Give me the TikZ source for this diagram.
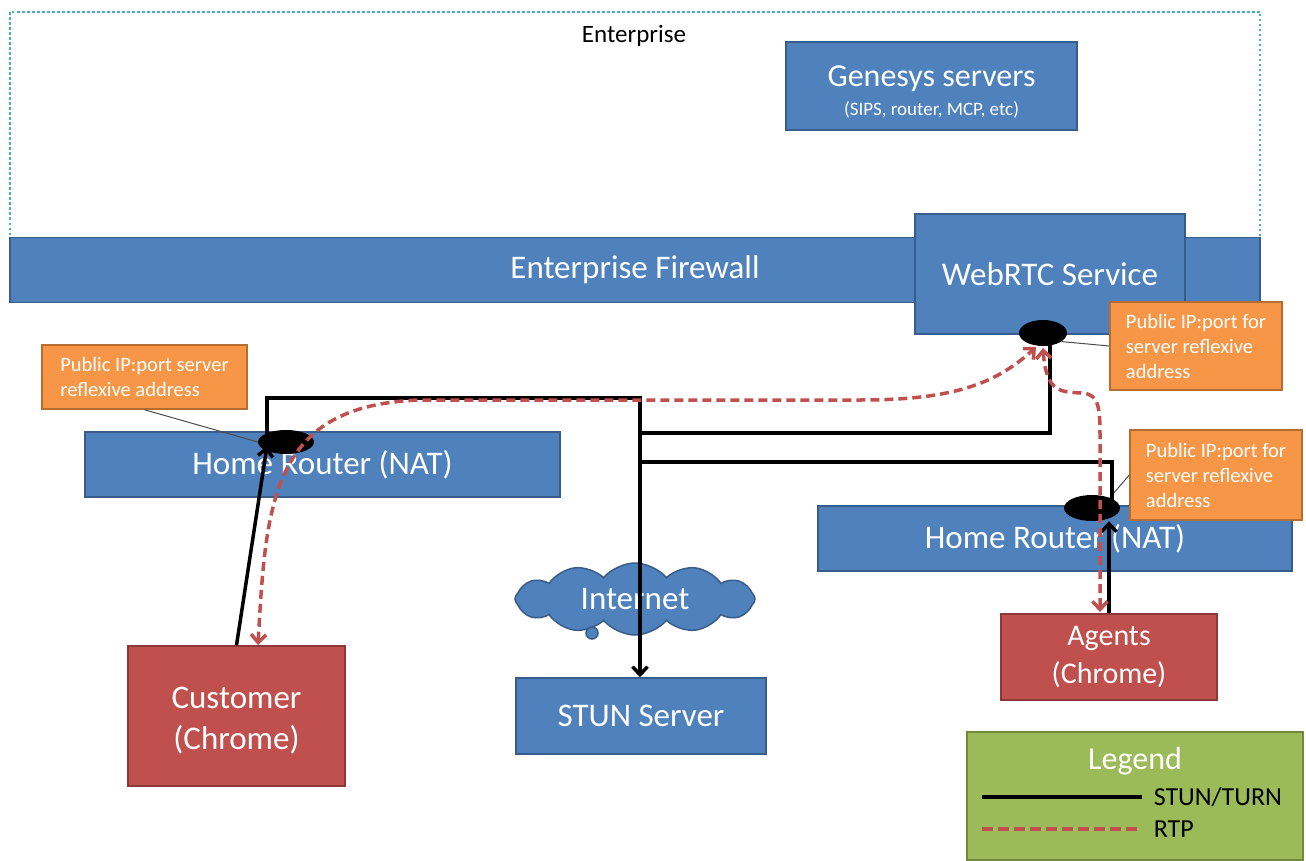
\documentclass[tikz,border=0pt]{standalone}
\usepackage{fontspec}
\setmainfont{Carlito}
\usetikzlibrary{arrows.meta,shapes.geometric,shapes.symbols}

\definecolor{boxblue}{HTML}{4F81BD}
\definecolor{blueedge}{HTML}{385D8A}
\definecolor{boxred}{HTML}{C0504D}
\definecolor{rededge}{HTML}{8C3836}
\definecolor{boxorange}{HTML}{F79646}
\definecolor{orangeedge}{HTML}{B66D31}
\definecolor{boxgreen}{HTML}{9BBB59}
\definecolor{greenedge}{HTML}{71893F}
\definecolor{dotcyan}{HTML}{4BACC6}

\tikzset{
        >={Straight Barb[length=8pt,width=15pt]}, % open arrow heads
        stunline/.style={line width=3.5pt}, % signalling path
        rtpline/.style={draw=boxred, line width=3.5pt, dash pattern=on 9pt off 5pt}, % media path
        pointer/.style={draw=black!70, line width=1pt}, % thin lines from the notes
        natdot/.style={ellipse, fill=black, inner sep=0pt}, % public port on a NAT
    }
\tikzstyle{bluebox}=[draw=blueedge,fill=boxblue,line width=1.5pt,text=white,font=\fontsize{33}{40}\selectfont]
\tikzstyle{redbox}=[draw=rededge,fill=boxred,line width=1.5pt,text=white,align=center,font=\fontsize{33}{41}\selectfont]
\tikzstyle{notebox}=[draw=orangeedge,fill=boxorange,line width=1.5pt,text=white,align=left,font=\fontsize{20.5}{25}\selectfont]

\begin{document}
\begin{tikzpicture}[x=1pt,y=-1pt]
    \useasboundingbox (0,0) rectangle (1306,861);

    % enterprise network
    \draw[dotcyan, line width=2.5pt, dash pattern=on 2.5pt off 2.5pt] (10,240) |- (1260,12) -- (1260,240);
    \node[font=\fontsize{25}{30}\selectfont] (entlabel) at (634,36) {Enterprise};
    \node[bluebox, minimum width=291, minimum height=88] (genesys) at (931.5,86) {};
    \node[text=white, align=center, font=\fontsize{32}{40}\selectfont] (genesyslabel) at (931.5,92)
        {Genesys servers\\[-11pt]{\fontsize{19}{23}\selectfont (SIPS, router, MCP, etc)}};
    \node[bluebox, minimum width=1250, minimum height=65] (firewall) at (635,270) {Enterprise Firewall};
    \node[bluebox, minimum width=270, minimum height=120] (webrtc) at (1050,274) {WebRTC Service};

    % homes and the internet
    \node[bluebox, minimum width=475, minimum height=65] (natL) at (322.5,464.5) {Home Router (NAT)};
    \node[bluebox, minimum width=474, minimum height=65] (natR) at (1055,538.5) {Home Router (NAT)};
    \node[notebox, minimum width=205, minimum height=64] (noteL) at (144.5,377)
        {Public IP:port server\\reflexive address};
    \node[notebox, minimum width=172, minimum height=88] (noteW) at (1196,346)
        {Public IP:port for\\server reflexive\\address};
    \node[notebox, minimum width=172, minimum height=90] (noteR) at (1216,475)
        {Public IP:port for\\server reflexive\\address};
    \node[cloud, cloud puffs=12, cloud puff arc=100, aspect=3.4, draw=blueedge, fill=boxblue,
        line width=1.5pt, text=white, minimum width=240, minimum height=72, inner sep=0pt,
        font=\fontsize{33}{40}\selectfont] (internet) at (635,599) {Internet};
    \draw[blueedge, fill=boxblue, line width=1.5pt] (592,633) circle (6);
    \node[bluebox, minimum width=250, minimum height=76] (stun) at (641,716) {STUN Server};
    \node[redbox, minimum width=217, minimum height=140] (cust) at (236.5,716) {};
    \node[text=white, align=center, font=\fontsize{33}{41}\selectfont] (custlabel) at (236.5,721) {Customer\\(Chrome)};
    \node[redbox, minimum width=216, minimum height=86, font=\fontsize{30}{38}\selectfont] (agents) at (1109,657)
        {Agents\\(Chrome)};

    % public ports
    \node[natdot, minimum width=56, minimum height=24] (natLdot) at (286,442) {};
    \node[natdot, minimum width=48, minimum height=26] (wrtcdot) at (1043,333) {};
    \node[natdot, minimum width=56, minimum height=26] (natRdot) at (1092,508) {};
    \draw[pointer] (noteL.south) -- (natLdot.west);
    \draw[pointer] (wrtcdot.-25) -- (noteW.west);
    \draw[pointer] (natRdot.30) -- (noteR.west);

    % STUN/TURN
    \coordinate (tapL) at (267,446);
    \coordinate (hub) at (640,398);
    \coordinate (tapW) at (1050,344);
    \coordinate (busW) at (640,433);
    \coordinate (busR) at (640,462);
    \coordinate (tapR) at (1112,506);
    \draw[stunline,->] (cust.north) -- (tapL);
    \draw[stunline,->] (tapL) |- (hub) -- (hub |- stun.north);
    \draw[stunline] (tapW) |- (busW);
    \draw[stunline] (busR) -| (tapR);
    \draw[stunline,->] (agents.north) -- (agents.north |- natRdot.south);

    % RTP
    \coordinate (rtpC) at (258,645);
    \coordinate (rtpW) at (1036,347);
    \coordinate (rtpW2) at (1043,348);
    \coordinate (rtpA) at (1100,612);
    \draw[rtpline,<->] (rtpC) .. controls (266,500) and (272,405) .. (420,400) -- (860,400)
        .. controls (950,400) and (995,385) .. (rtpW);
    \draw[rtpline,<->] (rtpW2) .. controls (1046,392) and (1060,392) .. (1082,393)
        .. controls (1100,394) and (1100,410) .. (1100,440) -- (rtpA);

    % legend
    \node[draw=greenedge, fill=boxgreen, line width=1.5pt, minimum width=336, minimum height=128] (legend) at (1135,796) {};
    \node[text=white, font=\fontsize{32}{38}\selectfont] (legendtitle) at (1135,761) {Legend};
    \coordinate (keyA) at (982,797);
    \coordinate (keyB) at (1142,797);
    \coordinate (keyC) at (982,829);
    \coordinate (keyD) at (1142,829);
    \draw[stunline] (keyA) -- (keyB) node[right=10pt, inner sep=0pt, font=\fontsize{26}{31}\selectfont] {STUN/TURN};
    \draw[rtpline, dash pattern=on 11pt off 5pt] (keyC) -- (keyD) node[right=10pt, inner sep=0pt, font=\fontsize{26}{31}\selectfont] {RTP};
\end{tikzpicture}
\end{document}
